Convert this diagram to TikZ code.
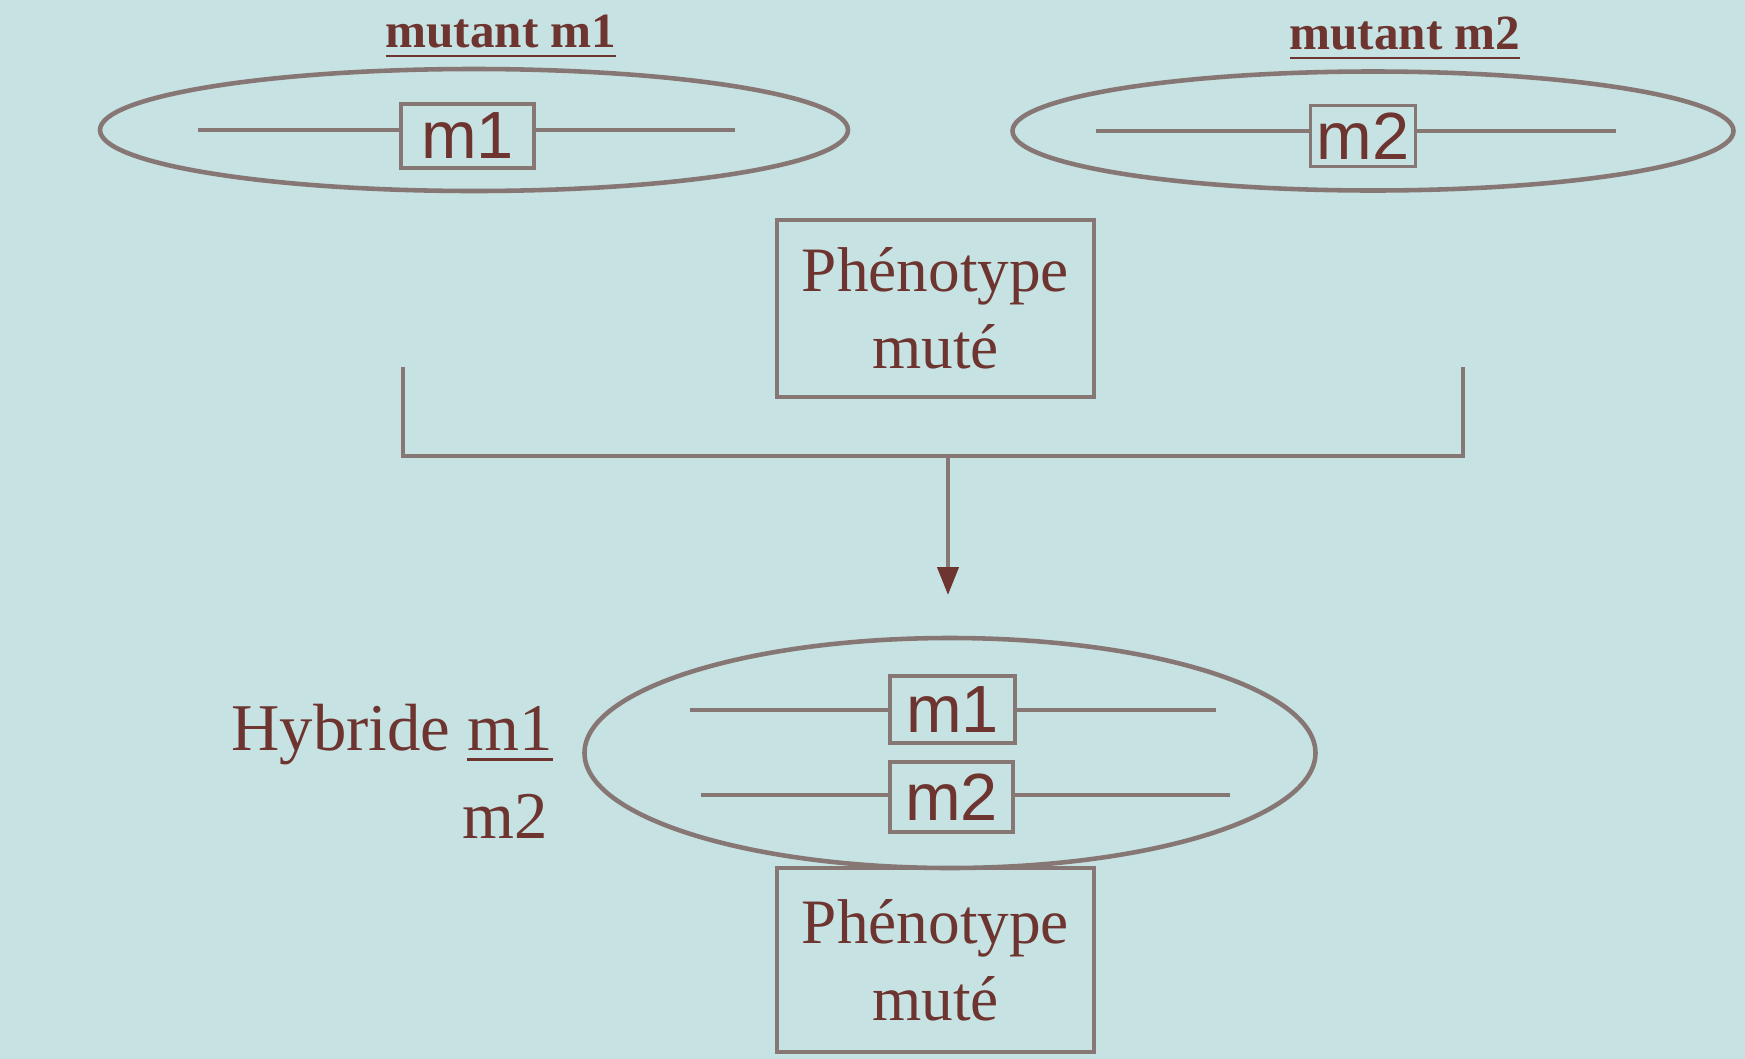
\documentclass[tikz,border=0pt]{standalone}
\usepackage{amsmath}
\usepackage{xcolor}
\usepackage{fontspec}
\setmainfont{Liberation Serif}
\newfontfamily\boxfont{Liberation Sans}
\usepackage{tikz}
\usetikzlibrary{shapes.geometric,arrows.meta}

\definecolor{slide}{HTML}{C6E2E2}
\definecolor{ink}{HTML}{6E3530}
\definecolor{trait}{HTML}{877774}

\begin{document}
\begin{tikzpicture}[
		chromo/.style={draw=trait,line width=1.3pt,ellipse,inner sep=0pt},
		allele/.style={draw=trait,line width=1.1pt,rectangle,inner sep=0pt,text=ink,font=\boxfont\fontsize{19}{21}\selectfont},
		pheno/.style={draw=trait,line width=1.2pt,rectangle,inner sep=0pt,text=ink,align=center,font=\fontsize{18}{22}\selectfont},
		brin/.style={trait,line width=1.2pt},
		titre/.style={text=ink,font=\bfseries\fontsize{14}{16}\selectfont}]
				\fill[slide] (0,0) rectangle (17.45,-10.59);
				\useasboundingbox (0,0) rectangle (17.45,-10.59);
				\node[titre] (t1) at (5.01,-0.37) {\underline{mutant m1}};
				\node[titre] (t2) at (14.05,-0.39) {\underline{mutant m2}};
				\node[chromo,minimum width=7.48cm,minimum height=1.22cm] (e1) at (4.74,-1.30) {};
				\node[chromo,minimum width=7.21cm,minimum height=1.19cm] (e2) at (13.73,-1.31) {};
				\node[allele,minimum width=1.33cm,minimum height=0.64cm] (a1) at (4.675,-1.36) {m1};
				\node[allele,minimum width=1.05cm,minimum height=0.61cm] (a2) at (13.63,-1.36) {m2};
				\coordinate (g1) at (1.98,-1.30);
				\coordinate (d1) at (7.35,-1.30);
				\coordinate (g2) at (10.96,-1.31);
				\coordinate (d2) at (16.16,-1.31);
				\draw[brin] (g1) -- (g1 -| a1.west);
				\draw[brin] (d1 -| a1.east) -- (d1);
				\draw[brin] (g2) -- (g2 -| a2.west);
				\draw[brin] (d2 -| a2.east) -- (d2);
				\node[pheno,minimum width=3.17cm,minimum height=1.77cm] (p1) at (9.355,-3.085) {Phénotype\\muté};
				\coordinate (b1) at (4.03,-3.67);
				\coordinate (b2) at (14.63,-3.67);
				\coordinate (bm) at (9.48,-4.56);
				\draw[brin] (b1) |- (bm) -| (b2);
				\node[chromo,minimum width=7.31cm,minimum height=2.30cm] (hy) at (9.50,-7.53) {};
				\draw[brin,-{Triangle[length=0.28cm,width=0.21cm,color=ink]}] (bm) -- (bm |- 0,-5.95);
				\node[allele,minimum width=1.25cm,minimum height=0.67cm] (h1) at (9.525,-7.095) {m1};
				\node[allele,minimum width=1.23cm,minimum height=0.70cm] (h2) at (9.515,-7.97) {m2};
				\coordinate (hg1) at (6.90,-7.10);
				\coordinate (hd1) at (12.16,-7.10);
				\coordinate (hg2) at (7.01,-7.95);
				\coordinate (hd2) at (12.30,-7.95);
				\draw[brin] (hg1) -- (hg1 -| h1.west);
				\draw[brin] (hd1 -| h1.east) -- (hd1);
				\draw[brin] (hg2) -- (hg2 -| h2.west);
				\draw[brin] (hd2 -| h2.east) -- (hd2);
				\node[text=ink,anchor=east,font=\fontsize{19}{22}\selectfont] (hyb) at (5.65,-7.35) {Hybride \underline{m1}};
				\node[text=ink,anchor=east,font=\fontsize{19}{22}\selectfont] (hyb2) at (5.60,-8.16) {m2};
				\node[pheno,minimum width=3.17cm,minimum height=1.84cm] (p2) at (9.355,-9.60) {Phénotype\\muté};
		\end{tikzpicture}
\end{document}
